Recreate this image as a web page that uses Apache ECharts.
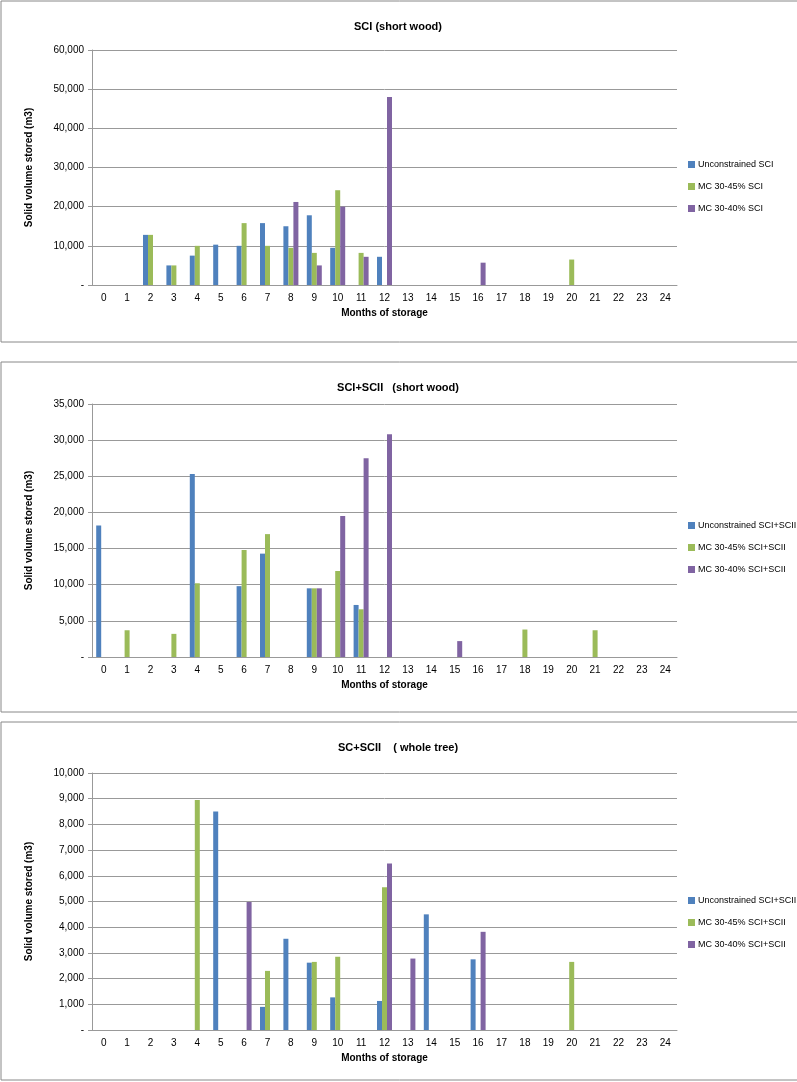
<!DOCTYPE html>
<html>
<head>
<meta charset="UTF-8">
<title>Storage charts</title>
<style>
body { padding:0; border:0; margin:0; }
</style>
<script src="https://cdn.jsdelivr.net/npm/echarts@6/dist/echarts.min.js"></script>
</head>
<body>
<div id="main" style="width:797px;height:1082px;"></div>
<script>
var months = [];
for (var m = 0; m <= 24; m++) months.push(String(m));

// chart 1: SCI (short wood)
var sci_unc = [0,0,12800,5000,7500,10300,10000,15800,15000,17800,9500,0,7200,0,0,0,0,0,0,0,0,0,0,0,0];
var sci_45  = [0,0,12800,5000,10000,0,15800,10000,9500,8200,24200,8200,0,0,0,0,0,0,0,0,6500,0,0,0,0];
var sci_40  = [0,0,0,0,0,0,0,0,21200,5000,20000,7200,48000,0,0,0,5700,0,0,0,0,0,0,0,0];

// chart 2: SCI+SCII (short wood)
var sw_unc = [18200,0,0,0,25300,0,9800,14300,0,9500,0,7200,0,0,0,0,0,0,0,0,0,0,0,0,0];
var sw_45  = [0,3700,0,3200,10200,0,14800,17000,0,9500,11900,6600,0,0,0,0,0,0,3800,0,0,3700,0,0,0];
var sw_40  = [0,0,0,0,0,0,0,0,0,9500,19500,27500,30800,0,0,2200,0,0,0,0,0,0,0,0,0];

// chart 3: SC+SCII (whole tree)
var wt_unc = [0,0,0,0,0,8500,0,900,3550,2620,1270,0,1130,0,4500,0,2750,0,0,0,0,0,0,0,0];
var wt_45  = [0,0,0,0,8950,0,0,2300,0,2650,2850,0,5550,0,0,0,0,0,0,0,2650,0,0,0,0];
var wt_40  = [0,0,0,0,0,0,4980,0,0,0,0,0,6480,2780,0,0,3820,0,0,0,0,0,0,0,0];

var colors = ['#4f81bd', '#9bbb59', '#8064a2'];
var panels = [
  {title:'SCI (short wood)', top:50, h:235, max:60000, interval:10000, boxY:1, boxH:341, legTop:160,
   names:['Unconstrained SCI','MC 30-45% SCI','MC 30-40% SCI'], data:[sci_unc, sci_45, sci_40]},
  {title:'SCI+SCII   (short wood)', top:404, h:253, max:35000, interval:5000, boxY:362, boxH:350, legTop:521,
   names:['Unconstrained SCI+SCII','MC 30-45% SCI+SCII','MC 30-40% SCI+SCII'], data:[sw_unc, sw_45, sw_40]},
  {title:'SC+SCII    ( whole tree)', top:773, h:257, max:10000, interval:1000, boxY:722, boxH:358, legTop:896,
   names:['Unconstrained SCI+SCII','MC 30-45% SCI+SCII','MC 30-40% SCI+SCII'], data:[wt_unc, wt_45, wt_40]}
];

var option = {
  animation:false,
  textStyle:{fontFamily:'Liberation Sans'},
  title:[], legend:[], grid:[], xAxis:[], yAxis:[], series:[], graphic:[]
};

panels.forEach(function (p, i) {
  option.graphic.push({type:'rect', shape:{x:1, y:p.boxY, width:800, height:p.boxH},
    style:{fill:'none', stroke:'#888', lineWidth:1}});
  option.title.push({text:p.title, left:393, top:p.boxY + 15, textAlign:'center',
    textStyle:{fontSize:11, fontWeight:'bold', color:'#000'}});
  option.legend.push({data:p.names, orient:'vertical', left:688, top:p.legTop,
    itemWidth:7, itemHeight:7, itemGap:13, icon:'rect', padding:0,
    textStyle:{fontSize:9, color:'#000', padding:[0,0,0,-2]}});
  option.grid.push({left:92, width:585, top:p.top, height:p.h});
  option.xAxis.push({type:'category', gridIndex:i, data:months,
    name:'Months of storage', nameLocation:'middle', nameGap:23,
    nameTextStyle:{fontSize:10, fontWeight:'bold', color:'#000'},
    axisTick:{show:false}, axisLine:{lineStyle:{color:'#999'}},
    axisLabel:{fontSize:10, color:'#000', margin:8}});
  option.yAxis.push({type:'value', gridIndex:i, min:0, max:p.max, interval:p.interval,
    name:'Solid volume stored (m3)', nameLocation:'middle', nameGap:58,
    nameTextStyle:{fontSize:10, fontWeight:'bold', color:'#000'},
    axisLine:{show:true, lineStyle:{color:'#999'}}, axisTick:{show:true, length:4, lineStyle:{color:'#999'}},
    splitLine:{lineStyle:{color:'#999'}},
    axisLabel:{fontSize:10, color:'#000', formatter:function (v) {
      return v === 0 ? '-' : v.toLocaleString('en-US');
    }}});
  for (var k = 0; k < 3; k++) {
    option.series.push({type:'bar', name:p.names[k], xAxisIndex:i, yAxisIndex:i,
      data:p.data[k].map(function (v) { return v === 0 ? null : v; }),
      barWidth:5, barGap:'0%', itemStyle:{color:colors[k]}});
  }
});

var chart = echarts.init(document.getElementById('main'));
chart.setOption(option);
</script>
</body>
</html>
